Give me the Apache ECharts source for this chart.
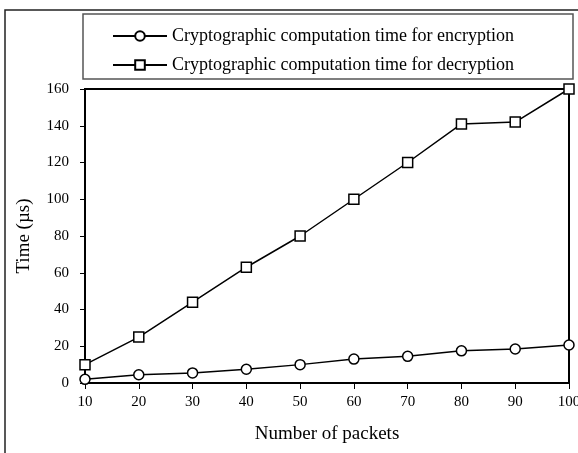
<!DOCTYPE html>
<html>
<head>
<meta charset="utf-8">
<script src="https://cdn.jsdelivr.net/npm/echarts@6/dist/echarts.min.js"></script>
<style>html,body{margin:0;padding:0;background:#fff}#c{width:578px;height:453px}</style>
</head>
<body>
<div id="c"></div>
<script>
var packets = [10, 20, 30, 40, 50, 60, 70, 80, 90, 100];
var encryption = [2, 4.5, 5.5, 7.5, 10, 13, 14.5, 17.5, 18.5, 20.7];
var decryption = [10, 25, 44, 63, 80, 100, 120, 141, 142, 160];
var encName = 'Cryptographic computation time for encryption';
var decName = 'Cryptographic computation time for decryption';

var font = '"Liberation Serif", "DejaVu Serif", serif';
var chart = echarts.init(document.getElementById('c'), null, {renderer: 'canvas'});
function pairs(ys) { return packets.map(function (x, i) { return [x, ys[i]]; }); }
chart.setOption({
  animation: false,
  backgroundColor: '#fff',
  textStyle: {fontFamily: font, color: '#000'},
  graphic: [
    {type: 'rect', shape: {x: 5, y: 10, width: 600, height: 500}, style: {fill: 'none', stroke: '#222', lineWidth: 1.5}, z: 0},
    {type: 'rect', shape: {x: 83, y: 14, width: 490, height: 65}, style: {fill: '#fff', stroke: '#555', lineWidth: 1.5}, z: 1}
  ],
  legend: {
    orient: 'vertical',
    left: 107,
    top: 22,
    itemWidth: 54,
    itemHeight: 12,
    itemGap: 11,
    textStyle: {fontFamily: font, fontSize: 18, color: '#000'},
    data: [encName, decName],
    z: 5
  },
  grid: {left: 85, right: 9, top: 89, bottom: 70, outerBoundsMode: 'none', show: true, borderColor: '#000', borderWidth: 2, backgroundColor: 'transparent'},
  xAxis: {
    type: 'value', min: 10, max: 100, interval: 10,
    name: 'Number of packets', nameLocation: 'middle', nameGap: 42,
    nameTextStyle: {fontFamily: font, fontSize: 19, color: '#000'},
    axisLine: {lineStyle: {color: '#000', width: 2}},
    axisTick: {show: true, length: 6, lineStyle: {color: '#000', width: 1}},
    axisLabel: {fontFamily: font, fontSize: 15, color: '#000', margin: 12},
    splitLine: {show: false}
  },
  yAxis: {
    type: 'value', min: 0, max: 160, interval: 20,
    name: 'Time (µs)', nameLocation: 'middle', nameGap: 51, nameRotate: 90,
    nameTextStyle: {fontFamily: font, fontSize: 19, color: '#000'},
    axisLine: {show: true, lineStyle: {color: '#000', width: 2}},
    axisTick: {show: true, length: 5, lineStyle: {color: '#000', width: 1}},
    axisLabel: {fontFamily: font, fontSize: 15, color: '#000', margin: 16},
    splitLine: {show: false}
  },
  series: [
    {name: encName, type: 'line', data: pairs(encryption), symbol: 'circle', symbolSize: 10,
     lineStyle: {color: '#000', width: 1.5}, itemStyle: {color: '#fff', borderColor: '#000', borderWidth: 1.5}},
    {name: decName, type: 'line', data: pairs(decryption), symbol: 'rect', symbolSize: 10,
     lineStyle: {color: '#000', width: 1.5}, itemStyle: {color: '#fff', borderColor: '#000', borderWidth: 1.5}}
  ]
});
</script>
</body>
</html>
